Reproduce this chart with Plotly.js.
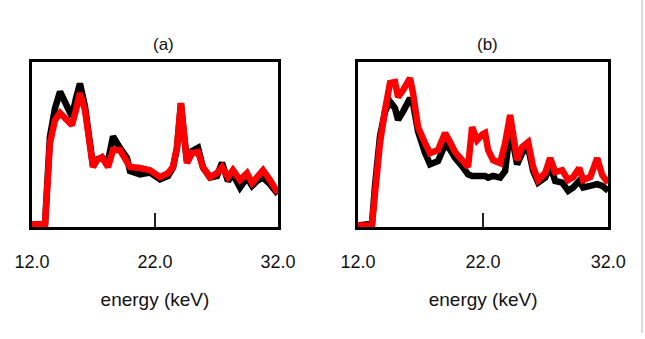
<!DOCTYPE html>
<html>
<head>
<meta charset="utf-8">
<script src="https://cdn.plot.ly/plotly-3.0.1.min.js"></script>
<style>html,body{margin:0;padding:0;background:#fff;}#chart{width:645px;height:339px;}</style>
</head>
<body>
<div id="chart"></div>
<script>
// Panel (a)
var energyA = [12.0,13.06,13.46,13.87,14.28,14.76,15.25,15.58,15.90,16.31,16.72,16.96,17.28,17.69,18.18,18.59,19.15,19.72,19.97,20.78,21.59,22.41,23.06,23.46,23.79,24.11,24.28,24.60,25.01,25.50,25.90,26.47,27.04,27.45,27.93,28.34,28.91,29.48,29.89,30.29,30.78,31.35,32.0];
var blackA = [1.8,1.8,55,72,82,74,67,78,87,73,52,37,41,42,40,55,48,42,34,32,33,29,31,36,48,75,61,40,46,48,36,30,31,39,28,32,24,30,25,28,30,26,20];
var redA = [1.8,1.8,50.9,64.8,69.1,66.1,61.8,70.9,81.2,70.9,52.7,36.4,40.6,42.4,36.4,46.7,46.7,40.6,36.4,35.8,34.5,30.3,32.7,36.4,48.5,75.2,60.6,38.8,44.8,45.5,36.4,30.3,32.7,36.4,30.3,34.5,28.5,32.7,26.7,29.7,34.5,28.5,20.6];
// Panel (b)
var energyB = [12.0,13.12,13.36,13.76,14.16,14.56,14.96,15.2,15.6,16.16,16.4,16.8,17.36,17.76,18.4,18.96,19.36,19.76,20.32,20.8,21.12,21.52,21.92,22.16,22.4,22.8,23.36,23.76,24.16,24.4,24.72,25.12,25.6,26.0,26.4,26.96,27.36,27.76,28.32,28.8,29.2,29.68,30.0,30.56,31.12,31.52,32.0];
var blackB = [1,2,25,55,70,76,72,65,70,78,75,58,45,38,40,50,47,42,37,32,31,31,31,31,30,31,30,34,60,52,38,45,48,34,27,30,37,28,27,22,24,28,24,25,26,25,22];
var redB = [1,1,20.6,50.9,70.9,87.3,87.9,78.8,83.0,90.3,81.2,60.6,50.9,44.8,46.7,57.0,51.5,45.5,40.6,36.4,60.6,52.7,56,57.0,46.7,40.6,38.8,50.9,67.9,57.0,40.6,48.5,51.5,36.4,28.5,32.7,41.8,33.3,34.5,28.5,30.3,35.8,28.5,30.3,41.8,31.5,26.7];

var tickVals = [12, 22, 32];
var tickText = ['12.0', '22.0', '32.0'];
var panelTitles = ['(a)', '(b)'];
var xTitle = 'energy (keV)';

var LW = 6.5;
var traces = [
  {x: energyA, y: blackA, xaxis: 'x', yaxis: 'y', mode: 'lines', line: {color: '#000000', width: LW}, showlegend: false},
  {x: energyA, y: redA, xaxis: 'x', yaxis: 'y', mode: 'lines', line: {color: '#ff0000', width: LW}, showlegend: false},
  {x: energyB, y: blackB, xaxis: 'x2', yaxis: 'y2', mode: 'lines', line: {color: '#000000', width: LW}, showlegend: false},
  {x: energyB, y: redB, xaxis: 'x2', yaxis: 'y2', mode: 'lines', line: {color: '#ff0000', width: LW}, showlegend: false}
];

var fontFam = 'Liberation Sans, Arial, sans-serif';
function xa(dom, anchor) {
  return {
    domain: dom, anchor: anchor, range: [12, 32],
    tickvals: tickVals, ticktext: tickText,
    ticks: 'inside', ticklen: 14, tickwidth: 1.5, tickcolor: '#222',
    ticklabelstandoff: 16,
    tickfont: {family: fontFam, size: 18, color: '#111'},
    showline: true, mirror: true, linewidth: 3, linecolor: '#000',
    showgrid: false, zeroline: false,
    title: {text: xTitle, font: {family: fontFam, size: 19, color: '#111'}, standoff: 22}
  };
}
function ya(dom, anchor) {
  return {
    domain: dom, anchor: anchor, range: [0, 100],
    showticklabels: false, ticks: '',
    showline: true, mirror: true, linewidth: 3, linecolor: '#000',
    showgrid: false, zeroline: false
  };
}
var yDom = [0.330, 0.817];
var layout = {
  width: 645, height: 339,
  margin: {l: 0, r: 0, t: 0, b: 0},
  paper_bgcolor: '#fff', plot_bgcolor: '#fff',
  xaxis: xa([0.0496, 0.431], 'y'),
  yaxis: ya(yDom, 'x'),
  xaxis2: xa([0.555, 0.943], 'y2'),
  yaxis2: ya(yDom, 'x2'),
  annotations: [
    {text: panelTitles[0], xref: 'paper', yref: 'paper', x: 163 / 645, y: 1 - 45 / 339, xanchor: 'center', yanchor: 'middle', showarrow: false, font: {family: fontFam, size: 17, color: '#111'}},
    {text: panelTitles[1], xref: 'paper', yref: 'paper', x: 487 / 645, y: 1 - 45 / 339, xanchor: 'center', yanchor: 'middle', showarrow: false, font: {family: fontFam, size: 17, color: '#111'}}
  ],
  shapes: [
    {type: 'line', xref: 'paper', yref: 'paper', x0: 642 / 645, x1: 642 / 645, y0: 1 - 333 / 339, y1: 1, line: {color: '#d0d0d0', width: 1.5}}
  ]
};
Plotly.newPlot('chart', traces, layout, {displayModeBar: false, staticPlot: true});
</script>
</body>
</html>
